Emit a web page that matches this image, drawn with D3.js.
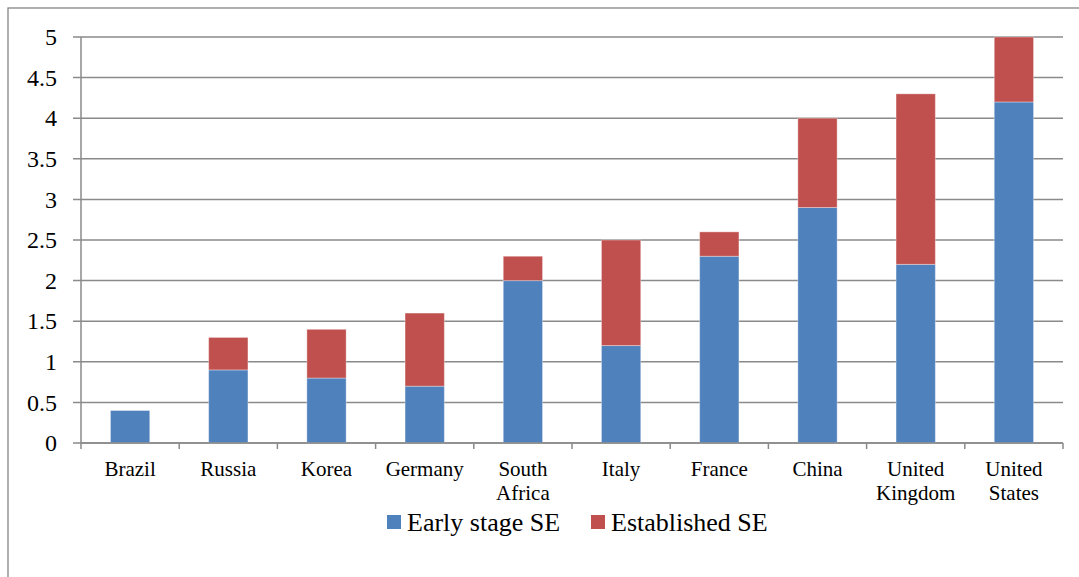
<!DOCTYPE html>
<html>
<head>
<meta charset="utf-8">
<script src="https://cdn.jsdelivr.net/npm/d3@7"></script>
<style>
html,body{margin:0;padding:0;background:#fff;}
svg{display:block;}
</style>
</head>
<body>
<svg id="chart" width="1079" height="577"></svg>
<script>
const categories = ["Brazil","Russia","Korea","Germany","South Africa","Italy","France","China","United Kingdom","United States"];
const earlyStage = [0.4,0.9,0.8,0.7,2.0,1.2,2.3,2.9,2.2,4.2];
const established = [0.0,0.4,0.6,0.9,0.3,1.3,0.3,1.1,2.1,0.8];
const seriesNames = ["Early stage SE","Established SE"];
const seriesColors = ["#4F81BD","#C0504D"];
const yTicks = [0,0.5,1,1.5,2,2.5,3,3.5,4,4.5,5];

(function(){
const FONT = "'Liberation Serif', 'Times New Roman', 'DejaVu Serif', serif";
const svg = d3.select("#chart");
const pL = 81, pR = 1063, pT = 37, pB = 443;

// outer frame
svg.append("rect").attr("x",8).attr("y",8).attr("width",1100).attr("height",600)
  .attr("fill","none").attr("stroke","#868686").attr("stroke-width",1.3);

const x = d3.scaleBand().domain(categories).range([pL,pR]).paddingInner(0).paddingOuter(0);
const y = d3.scaleLinear().domain([0,5]).range([pB,pT]);

// gridlines
svg.append("g").selectAll("line").data(yTicks).join("line")
  .attr("x1",pL-8).attr("x2",pR)
  .attr("y1",d=>y(d)).attr("y2",d=>y(d))
  .attr("stroke","#8a8a8a").attr("stroke-width",1.5);

// y labels
svg.append("g").selectAll("text").data(yTicks).join("text")
  .attr("x",57).attr("y",d=>y(d)).attr("dy","0.34em")
  .attr("text-anchor","end")
  .attr("font-family",FONT).attr("font-size",24).attr("fill","#000")
  .text(d=>d);

// stacked data
const rows = categories.map((c,i)=>({cat:c, early:earlyStage[i], est:established[i]}));
const stack = d3.stack().keys(["early","est"])(rows);

const bw = x.bandwidth()*0.4;
const off = x.bandwidth()*0.3;
svg.append("g").selectAll("g").data(stack).join("g")
  .attr("fill",(d,i)=>seriesColors[i])
  .selectAll("rect").data(d=>d.filter(p=>p[1]>p[0])).join("rect")
  .attr("x",d=>x(d.data.cat)+off)
  .attr("width",bw)
  .attr("y",d=>y(d[1]))
  .attr("height",d=>Math.max(0,y(d[0])-y(d[1])))
  .attr("stroke","rgba(255,255,255,0.35)").attr("stroke-width",1);

// y axis line
svg.append("line").attr("x1",pL).attr("x2",pL).attr("y1",pT).attr("y2",pB)
  .attr("stroke","#8a8a8a").attr("stroke-width",1.5);
// x axis line
svg.append("line").attr("x1",pL).attr("x2",pR).attr("y1",pB).attr("y2",pB)
  .attr("stroke","#8a8a8a").attr("stroke-width",1.5);
// x ticks at boundaries
const bounds = categories.map(c=>x(c)).concat([pR]);
svg.append("g").selectAll("line").data(bounds).join("line")
  .attr("x1",d=>d).attr("x2",d=>d).attr("y1",pB).attr("y2",pB+6)
  .attr("stroke","#8a8a8a").attr("stroke-width",1.5);

// x labels
const xl = svg.append("g").selectAll("text").data(categories).join("text")
  .attr("text-anchor","middle")
  .attr("font-family",FONT).attr("font-size",21).attr("fill","#000")
  .attr("x",d=>x(d)+x.bandwidth()/2).attr("y",476);
xl.each(function(d){
  const words = d.split(" ");
  const t = d3.select(this);
  words.forEach((w,i)=>{
    t.append("tspan").attr("x",x(d)+x.bandwidth()/2).attr("y",476+i*24).text(w);
  });
});

// legend
const legend = [{name:seriesNames[0],color:seriesColors[0],sx:387,tx:407},
                {name:seriesNames[1],color:seriesColors[1],sx:591,tx:611}];
const lg = svg.append("g").selectAll("g").data(legend).join("g");
lg.append("rect").attr("x",d=>d.sx).attr("y",515).attr("width",14).attr("height",14).attr("fill",d=>d.color);
lg.append("text").attr("x",d=>d.tx).attr("y",531)
  .attr("font-family",FONT).attr("font-size",26).attr("fill","#000")
  .text(d=>d.name);
})();
</script>
</body>
</html>
